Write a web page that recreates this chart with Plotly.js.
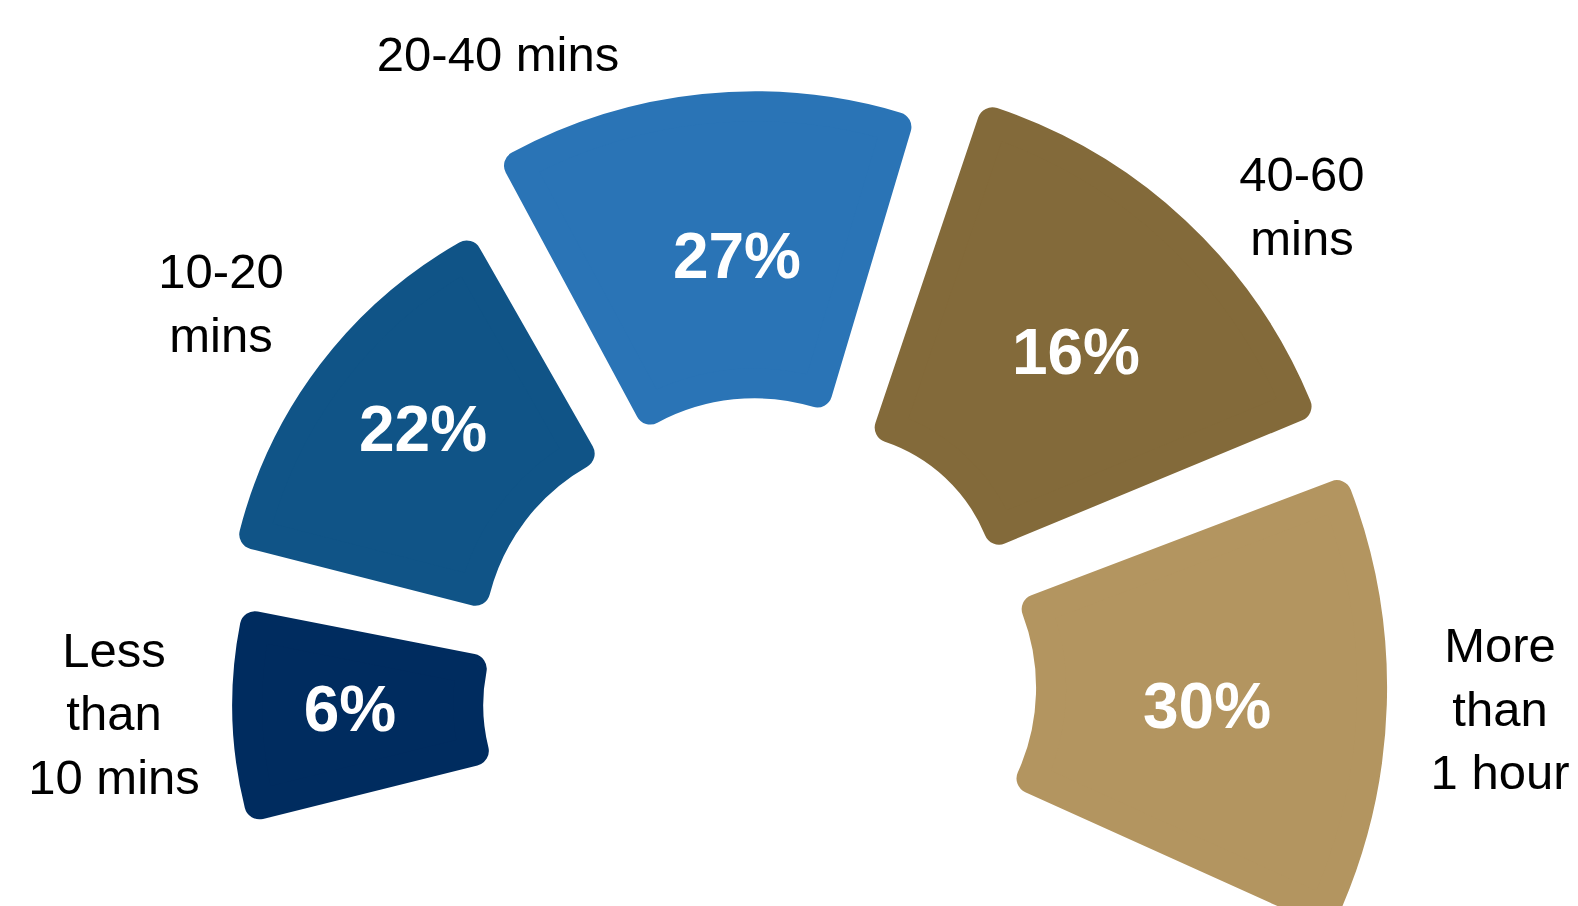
<!DOCTYPE html>
<html>
<head>
<meta charset="utf-8">
<script src="https://cdn.plot.ly/plotly-3.0.1.min.js"></script>
<style>
  html, body { margin: 0; padding: 0; background: #ffffff; overflow: hidden; }
  #wrap { position: relative; width: 1578px; height: 906px; overflow: hidden; background: #fff; }
  #chart { position: absolute; left: -400px; top: -300px; width: 2378px; height: 1906px; }
  .barlayer path { stroke-linejoin: round !important; }
</style>
</head>
<body>
<div id="wrap"><div id="chart"></div></div>
<script>
// ---------- data ----------
const categories = ["Less than 10 mins", "10-20 mins", "20-40 mins", "40-60 mins", "More than 1 hour"];
const categoryLabels = ["Less<br>than<br>10 mins", "10-20<br>mins", "20-40 mins", "40-60<br>mins", "More<br>than<br>1 hour"];
const shares = [6, 22, 27, 16, 30];

// ---------- styling: segment geometry (page px / degrees) ----------
const colors = ["#002c5f", "#105487", "#2a74b6", "#836a3a", "#b39560"];
const edgeLo = [168.9, 119.7, 73.4, 22.5, -24.3];     // segment edge angles
const edgeHi = [194.0, 165.7, 118.3, 71.4, 20.8];
const innerR = [243, 244, 244, 202, 245];             // inner radius from segment centre
const outerR = [494, 502, 551, 554, 596];             // outer radius from segment centre
const centreX = [726.2, 719.5, 758.5, 807.3, 791.1];  // each (exploded) segment's centre
const centreY = [703.4, 668.5, 642.1, 625.3, 686.4];
const corner = 15;                                    // corner rounding

// ---------- styling: label placement (around the ring centre) ----------
const ringX = 758, ringY = 677;
const pctAngle = [185.3, 144.15, 92.9, 45.09, -4.46];
const pctRadius = [409.8, 413.3, 415.5, 450.4, 450.4];
const labelAngle = [183.64, 145.47, 112.8, 40.59, -2.82];
const labelRadius = [645.3, 651.8, 670.9, 716.3, 742.9];

// ---------- canvas ----------
const OX = 400, OY = 300, W = 2378, H = 1906;
const RSEG = 700, RLAB = 800;
const FONT = "Liberation Sans, Arial, Helvetica, sans-serif";

function domainAt(cx, cy, R) {
  const x = cx + OX, y = cy + OY;
  return { x: [(x - R) / W, (x + R) / W], y: [1 - (y + R) / H, 1 - (y - R) / H] };
}
function hiddenPolar(dom, R) {
  return {
    domain: dom,
    bgcolor: "rgba(0,0,0,0)",
    hole: 0,
    radialaxis: { range: [0, R], autorange: false, visible: false, showgrid: false, showline: false, showticklabels: false, ticks: "" },
    angularaxis: { visible: false, showgrid: false, showline: false, showticklabels: false, ticks: "", direction: "counterclockwise", rotation: 0 }
  };
}

const traces = [];
const layout = {
  width: W,
  height: H,
  margin: { l: 0, r: 0, t: 0, b: 0, pad: 0 },
  paper_bgcolor: "#ffffff",
  plot_bgcolor: "#ffffff",
  showlegend: false,
  hovermode: false
};

categories.forEach((cat, i) => {
  const span = edgeHi[i] - edgeLo[i];
  const bis = (edgeHi[i] + edgeLo[i]) / 2;
  const rad = Math.PI / 180;
  const d = corner / Math.sin(span / 2 * rad);        // shift so the rounded outline keeps the edges
  const cx = centreX[i] + d * Math.cos(bis * rad);
  const cy = centreY[i] - d * Math.sin(bis * rad);
  const base = innerR[i] - d + corner;
  const top = outerR[i] - d - corner;
  const key = i === 0 ? "polar" : "polar" + (i + 1);
  layout[key] = hiddenPolar(domainAt(cx, cy, RSEG), RSEG);
  traces.push({
    type: "barpolar",
    subplot: key,
    name: cat,
    r: [top - base],
    base: [base],
    theta: [bis],
    width: [span],
    marker: { color: colors[i], line: { color: colors[i], width: 2 * corner } },
    hoverinfo: "skip",
    showlegend: false
  });
});

layout.polar6 = hiddenPolar(domainAt(ringX, ringY, RLAB), RLAB);

traces.push({
  type: "scatterpolar",
  subplot: "polar6",
  mode: "text",
  r: pctRadius,
  theta: pctAngle,
  text: shares.map(v => v + "%"),
  textposition: "middle center",
  textfont: { family: FONT, size: 64, color: "#ffffff", weight: "bold" },
  cliponaxis: false,
  hoverinfo: "skip",
  showlegend: false
});
traces.push({
  type: "scatterpolar",
  subplot: "polar6",
  mode: "text",
  r: labelRadius,
  theta: labelAngle,
  text: categoryLabels,
  textposition: "middle center",
  textfont: { family: FONT, size: 49, color: "#000000" },
  cliponaxis: false,
  hoverinfo: "skip",
  showlegend: false
});

Plotly.newPlot("chart", traces, layout, { displayModeBar: false, staticPlot: true });
</script>
</body>
</html>
